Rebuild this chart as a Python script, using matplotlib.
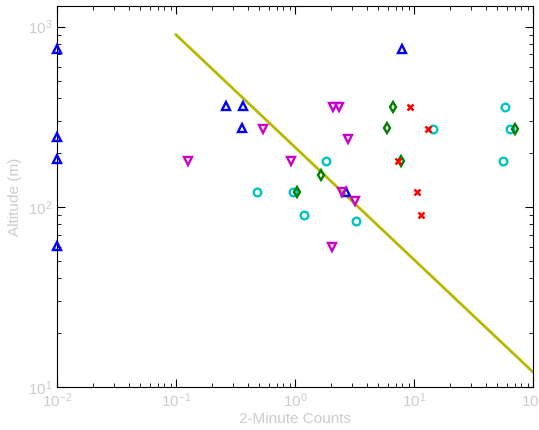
"""
Altitude vs 2-minute counts, log-log scatter with fitted power law.
"""

import matplotlib
matplotlib.use('Agg')
import matplotlib.pyplot as plt

plt.rcParams['font.family'] = ['Liberation Sans', 'DejaVu Sans']
plt.rcParams['mathtext.fontset'] = 'custom'
plt.rcParams['mathtext.rm'] = 'Liberation Sans'
plt.rcParams['mathtext.it'] = 'Liberation Sans'

# --- data
tri_up_x = [0.01, 0.01, 0.01, 0.01, 0.262, 0.366, 0.36, 8.0, 2.67]
tri_up_y = [755, 243, 183, 60.4, 362, 362, 273, 755, 121]

tri_dn_x = [0.125, 0.536, 0.925, 2.10, 2.33, 2.81, 2.47, 3.21, 2.05]
tri_dn_y = [179, 270, 179, 360, 360, 239, 121, 108, 60]

circ_x = [0.476, 0.969, 1.18, 1.81, 3.24, 14.5, 58.5, 64, 56]
circ_y = [121, 121, 90, 179, 83, 270, 360, 270, 179]

diam_x = [1.04, 1.66, 5.89, 6.62, 7.82, 71]
diam_y = [121, 151, 272, 360, 180, 270]

cross_x = [9.25, 13.2, 7.3, 10.7, 11.5]
cross_y = [360, 270, 180, 121, 90]

fit_x = [0.1, 100]
fit_y = [900, 12.1]

x_ticks = [1e-2, 1e-1, 1e0, 1e1, 1e2]
x_labels = ['$10^{-2}$', '$10^{-1}$', '$10^{0}$', '$10^{1}$', '$10^{2}$']
y_ticks = [1e1, 1e2, 1e3]
y_labels = ['$10^{1}$', '$10^{2}$', '$10^{3}$']

grey = '#cccccc'

fig = plt.figure(figsize=(5.39, 4.30), dpi=100)
ax = fig.add_axes([57 / 539, 43 / 430, 476 / 539, 381 / 430])

ax.plot(fit_x, fit_y, color='#b8b800', lw=2, zorder=1)

mk = dict(ls='none', mfc='none', ms=5.5, mew=1.7, clip_on=False, zorder=3)
ax.plot(tri_up_x, tri_up_y, marker='^', mec='#0000ff', **mk)
ax.plot(tri_dn_x, tri_dn_y, marker='v', mec='#cc00cc', **mk)
ax.plot(circ_x, circ_y, marker='o', mec='#00c4c4', **mk)
ax.plot(diam_x, diam_y, marker='d', mec='#008000', **mk)
ax.plot(cross_x, cross_y, marker='x', mec='#ff0000', ls='none', ms=4,
        mew=1.8, zorder=3)

ax.set_xscale('log')
ax.set_yscale('log')
ax.set_xlim(1e-2, 1e2)
ax.set_ylim(10, 1300)

ax.set_xticks(x_ticks)
ax.set_xticklabels(x_labels)
ax.set_yticks(y_ticks)
ax.set_yticklabels(y_labels)
ax.tick_params(which='both', direction='in', top=True, right=True,
               labelcolor=grey, labelsize=11)
ax.tick_params(which='major', length=6)
ax.tick_params(which='minor', length=3)

ax.set_xlabel('2-Minute Counts', color=grey, fontsize=11, labelpad=1)
ax.set_ylabel('Altitude (m)', color=grey, fontsize=11, labelpad=4)

fig.savefig('out.png', dpi=100)
